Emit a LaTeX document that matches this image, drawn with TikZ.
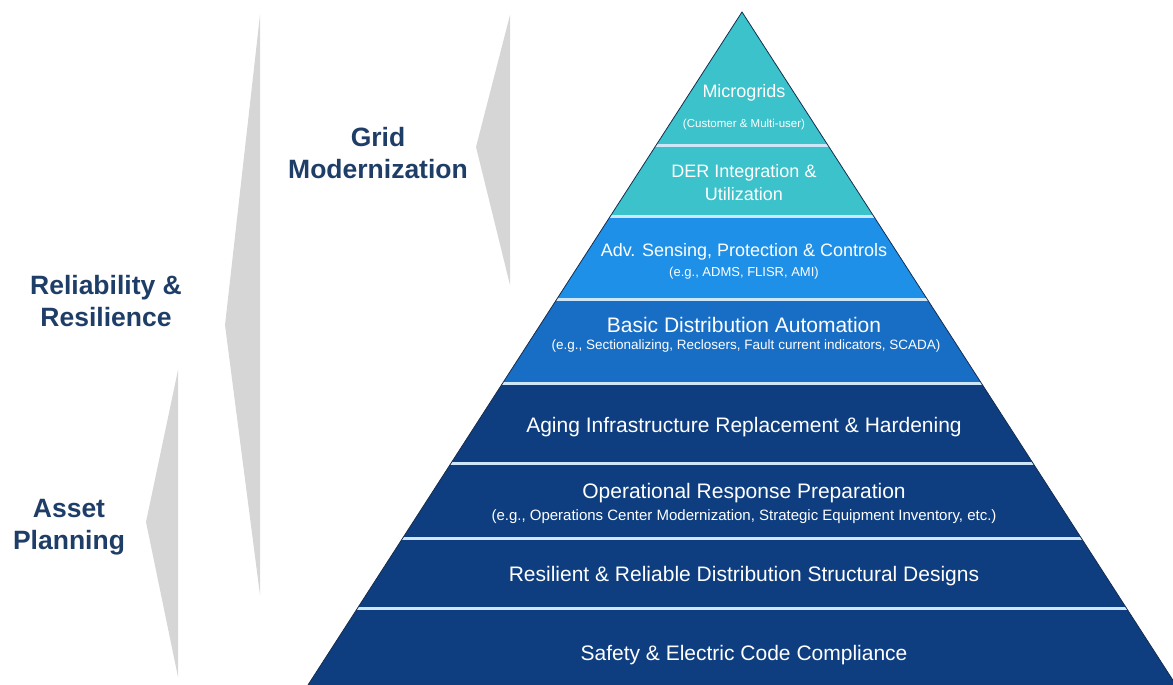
\documentclass[tikz,border=0pt]{standalone}
\usepackage{fontspec}
\setmainfont{Liberation Sans}
\usepackage{tikz}

\definecolor{navyband}{RGB}{14,62,128}
\definecolor{midband}{RGB}{24,110,196}
\definecolor{skyband}{RGB}{30,144,232}
\definecolor{tealband}{RGB}{60,194,202}
\definecolor{sepcol}{RGB}{205,230,248}
\definecolor{bracegray}{RGB}{214,214,214}
\definecolor{labelnavy}{RGB}{30,62,104}
\definecolor{edgecol}{RGB}{22,44,78}

\begin{document}
\begin{tikzpicture}[x=1pt,y=-1pt,
    bandtext/.style={text=white,font=\fontsize{21}{25}\selectfont,inner sep=0pt},
    toptext/.style={text=white,font=\fontsize{18}{23}\selectfont,align=center,inner sep=0pt},
    subtext/.style={text=white,font=\fontsize{13.5}{16}\selectfont,inner sep=0pt},
    sidelabel/.style={text=labelnavy,font=\bfseries\fontsize{26.5}{32}\selectfont,align=center},
    bracefill/.style={fill=bracegray},
    sepline/.style={draw=sepcol,line width=3pt}]

        \useasboundingbox (0,0) rectangle (1173,685);

        % Gray braces on the left
        \fill[bracefill] (510,15) -- (476,147) -- (510,285) -- cycle;
        \fill[bracefill] (260,15) -- (225,325) -- (260,595) -- cycle;
        \fill[bracefill] (178,370) -- (146,522) -- (178,677) -- cycle;

        % Labeling Braces
        \node[sidelabel] (grid) at (378,153) {Grid\\Modernization};
        \node[sidelabel] (relres) at (106,301) {Reliability \&\\Resilience};
        \node[sidelabel] (asset) at (69,527) {Asset\\Planning};

        % Pyramid with 8 Bands
        \begin{scope}
            \clip (742,12) -- (308,685) -- (1176,685) -- cycle;
            \fill[navyband] (300,383) rectangle (1180,690);
            \fill[midband] (300,299) rectangle (1180,383);
            \fill[skyband] (300,216) rectangle (1180,299);
            \fill[tealband] (300,0) rectangle (1180,216);
            \foreach \y in {145,216,299,383,463,538,608}{
                \draw[sepline] (300,\y) -- (1180,\y);
            }
        \end{scope}
        \draw[edgecol,line width=0.8pt] (308,685) -- (742,12) -- (1176,685);

        % Labeling Bands
        \node[toptext] (mg) at (744,93) {Microgrids};
        \node[subtext,font=\fontsize{11.5}{14}\selectfont] (mgsub) at (744,125) {(Customer \& Multi-user)};
        \node[toptext] (der) at (744,183) {DER Integration \&\\Utilization};
        \node[toptext] (adv) at (744,252) {Adv. Sensing, Protection \& Controls};
        \node[subtext,font=\fontsize{13}{15}\selectfont] (advsub) at (744,273) {(e.g., ADMS, FLISR, AMI)};
        \node[bandtext] (basic) at (744,325) {Basic Distribution Automation};
        \node[subtext] (basicsub) at (746,346) {(e.g., Sectionalizing, Reclosers, Fault current indicators, SCADA)};
        \foreach \y/\name/\txt in {427/aging/{Aging Infrastructure Replacement \& Hardening},
                                   493/oper/{Operational Response Preparation},
                                   576/resil/{Resilient \& Reliable Distribution Structural Designs},
                                   655/safety/{Safety \& Electric Code Compliance}}{
            \node[bandtext] (\name) at (744,\y) {\txt};
        }
        \node[subtext,font=\fontsize{15}{18}\selectfont] (opersub) at (744,517) {(e.g., Operations Center Modernization, Strategic Equipment Inventory, etc.)};

    \end{tikzpicture}
\end{document}
